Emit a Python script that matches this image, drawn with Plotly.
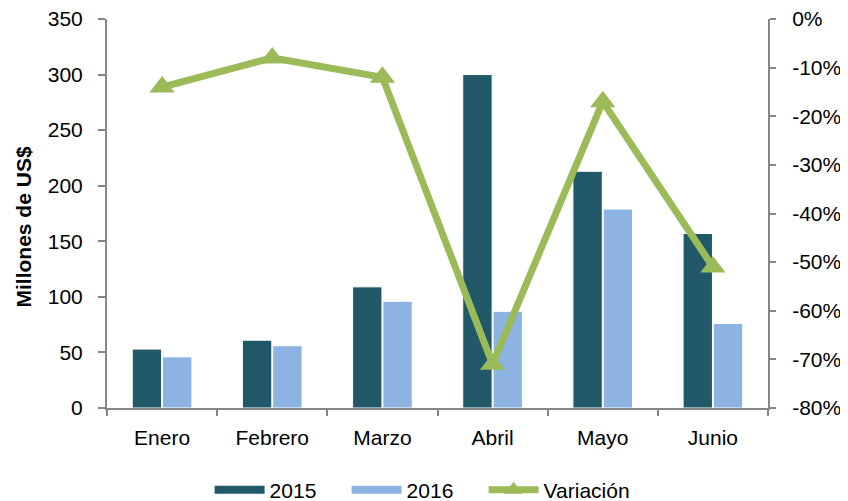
import plotly.graph_objects as go

months = ["Enero", "Febrero", "Marzo", "Abril", "Mayo", "Junio"]
v2015 = [53, 61, 109, 300, 213, 157]
v2016 = [46, 56, 96, 87, 179, 76]
variacion = [-0.14, -0.08, -0.12, -0.71, -0.17, -0.51]
left_ticks = [0, 50, 100, 150, 200, 250, 300, 350]
right_tickvals = [0, -0.1, -0.2, -0.3, -0.4, -0.5, -0.6, -0.7, -0.8]
right_ticktext = ["0%", "-10%", "-20%", "-30%", "-40%", "-50%", "-60%", "-70%", "-80%"]

font = "Liberation Sans, Arial, sans-serif"
axis_color = "#868686"
c2015 = "#215968"
c2016 = "#8DB3E2"
cvar = "#9BBB59"

fig = go.Figure()
fig.add_trace(go.Bar(x=months, y=v2015, name="2015", showlegend=False, legendgroup="2015",
                     marker=dict(color=c2015, line=dict(color="white", width=1))))
fig.add_trace(go.Bar(x=months, y=v2016, name="2016", showlegend=False, legendgroup="2016",
                     marker=dict(color=c2016, line=dict(color="white", width=1))))
# legend-only entries (wide swatches like the reference)
fig.add_trace(go.Scatter(x=[None], y=[None], name="2015", legendgroup="2015", mode="lines",
                         line=dict(color=c2015, width=8), legendwidth=72))
fig.add_trace(go.Scatter(x=[None], y=[None], name="2016", legendgroup="2016", mode="lines",
                         line=dict(color=c2016, width=8), legendwidth=72))
fig.add_trace(go.Scatter(x=months, y=variacion, name="Variación", yaxis="y2", mode="lines+markers",
                         line=dict(color=cvar, width=7),
                         marker=dict(symbol="triangle-up", size=22, color=cvar)))

fig.add_annotation(text="<b>Millones de US$</b>", textangle=-90, xref="paper", yref="paper",
                   x=-0.1256, y=0.4666, xanchor="center", yanchor="middle", showarrow=False,
                   font=dict(family=font, size=21, color="black"))

fig.update_layout(
    width=840, height=493,
    margin=dict(l=99, r=80, t=11, b=93, autoexpand=False),
    paper_bgcolor="white", plot_bgcolor="white",
    font=dict(family=font, size=21, color="black"),
    barmode="group", bargap=0.45, bargroupgap=0.03,
    showlegend=True,
    legend=dict(orientation="h", xref="container", yref="container", x=0.24, xanchor="left",
                y=0.022, yanchor="middle", font=dict(size=21), traceorder="normal", itemwidth=50),
    xaxis=dict(showline=True, linecolor=axis_color, linewidth=2, ticks="outside", tickson="boundaries",
               ticklen=6, tickcolor=axis_color, tickwidth=2, showgrid=False, tickfont=dict(size=21),
               ticklabelstandoff=10, automargin=False),
    yaxis=dict(range=[0, 350], tickvals=left_ticks, showline=True, linecolor=axis_color, linewidth=2,
               ticks="outside", ticklen=7, tickcolor=axis_color, tickwidth=2, showgrid=False, zeroline=False,
               tickfont=dict(size=21), ticklabelstandoff=11, ticklabeloverflow="allow", automargin=False),
    yaxis2=dict(overlaying="y", side="right", range=[-0.8, 0], tickvals=right_tickvals, ticktext=right_ticktext,
                showline=True, linecolor=axis_color, linewidth=2, ticks="outside", ticklen=6, tickcolor=axis_color,
                tickwidth=2, showgrid=False, zeroline=False, tickfont=dict(size=21), ticklabelstandoff=12,
                ticklabeloverflow="allow", automargin=False),
)

fig.write_html("out.html")
